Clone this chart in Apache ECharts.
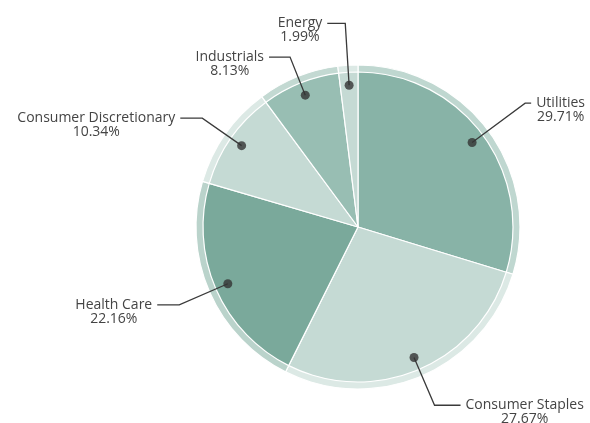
<!DOCTYPE html>
<html>
<head>
<meta charset="utf-8">
<script src="https://cdn.jsdelivr.net/npm/echarts@6/dist/echarts.min.js"></script>
<style>
    html, body { margin: 0; padding: 0; background: #fff; }
    #sectors { width: 590px; height: 423px; }
</style>
</head>
<body>
<div id="sectors"></div>
<script>
(function () {

    /* ============ sector weights ============ */

    var sectorNames = ['Utilities', 'Consumer Staples', 'Health Care', 'Consumer Discretionary', 'Industrials', 'Energy'];
    var sectorWeights = [29.71, 27.67, 22.16, 10.34, 8.13, 1.99];

    // slice colours and ring colours (same order as sectors)
    var sliceColors = ['#88b3a7', '#c5dad4', '#7aa99b', '#c5dad4', '#98beb3', '#c5dad4'];
    var ringColors = ['#bfd7d0', '#dce9e5', '#bad3cb', '#dce9e5', '#c3d9d2', '#dce9e5'];

    // label line lengths per sector (first segment / horizontal segment)
    var lineLen = [66, 52, 53, 48, 41, 62];
    var lineLen2 = [6, 26, 22, 22, 21, 18];

    var CENTER = [358, 227];
    var R = 155;
    var DOT_R = 142;

    var chart = echarts.init(document.getElementById('sectors'));

    var total = sectorWeights.reduce(function (a, b) { return a + b; }, 0);

    // mid-angle of each slice, as percent of the circle, for the dots
    var dots = [];
    var acc = 0;
    for (var i = 0; i < sectorWeights.length; i++) {
        var mid = (acc + sectorWeights[i] / 2) / total * 100;
        dots.push([DOT_R, mid]);
        acc += sectorWeights[i];
    }

    var inner = sectorNames.map(function (n, i) {
        return { name: n, value: sectorWeights[i], itemStyle: { color: sliceColors[i] } };
    });
    var ring = sectorNames.map(function (n, i) {
        return { name: n, value: sectorWeights[i], itemStyle: { color: ringColors[i] } };
    });
    var labelled = sectorNames.map(function (n, i) {
        return {
            name: n,
            value: sectorWeights[i],
            labelLine: { length: lineLen[i], length2: lineLen2[i] }
        };
    });

    var txt = { fontFamily: 'Open Sans', fontSize: 14, lineHeight: 14, color: '#444' };

    var option = {
        animation: false,
        polar: { center: CENTER, radius: R },
        angleAxis: { type: 'value', min: 0, max: 100, startAngle: 90, clockwise: true, show: false },
        radiusAxis: { type: 'value', min: 0, max: R, show: false },
        series: [
            {
                type: 'pie',
                center: CENTER,
                radius: [R - 1, R + 7],
                startAngle: 90,
                silent: true,
                z: 1,
                label: { show: false },
                labelLine: { show: false },
                itemStyle: { borderColor: '#fff', borderWidth: 1.2 },
                data: ring
            },
            {
                type: 'pie',
                center: CENTER,
                radius: [0, R],
                startAngle: 90,
                silent: true,
                z: 1,
                label: { show: false },
                labelLine: { show: false },
                itemStyle: { borderColor: '#fff', borderWidth: 1.2 },
                data: inner
            },
            {
                // invisible pie, only carries the labels
                type: 'pie',
                center: CENTER,
                radius: [0, DOT_R],
                startAngle: 90,
                silent: true,
                z: 4,
                avoidLabelOverlap: false,
                itemStyle: { color: 'rgba(0,0,0,0)' },
                label: {
                    show: true,
                    formatter: '{n|{b}}\n{p|{d}%}',
                    fontFamily: txt.fontFamily,
                    fontSize: txt.fontSize,
                    color: txt.color,
                    padding: [14, 0, 0, 0],
                    distanceToLabelLine: 5,
                    rich: {
                        n: Object.assign({ align: 'center' }, txt),
                        p: Object.assign({ align: 'center' }, txt)
                    }
                },
                labelLine: {
                    show: true,
                    smooth: false,
                    lineStyle: { color: '#3a3a3a', width: 1.3 }
                },
                data: labelled
            },
            {
                type: 'scatter',
                coordinateSystem: 'polar',
                symbol: 'circle',
                symbolSize: 9,
                silent: true,
                itemStyle: { color: '#333' },
                data: dots,
                z: 5
            }
        ]
    };

    chart.setOption(option);
}());
</script>
</body>
</html>
